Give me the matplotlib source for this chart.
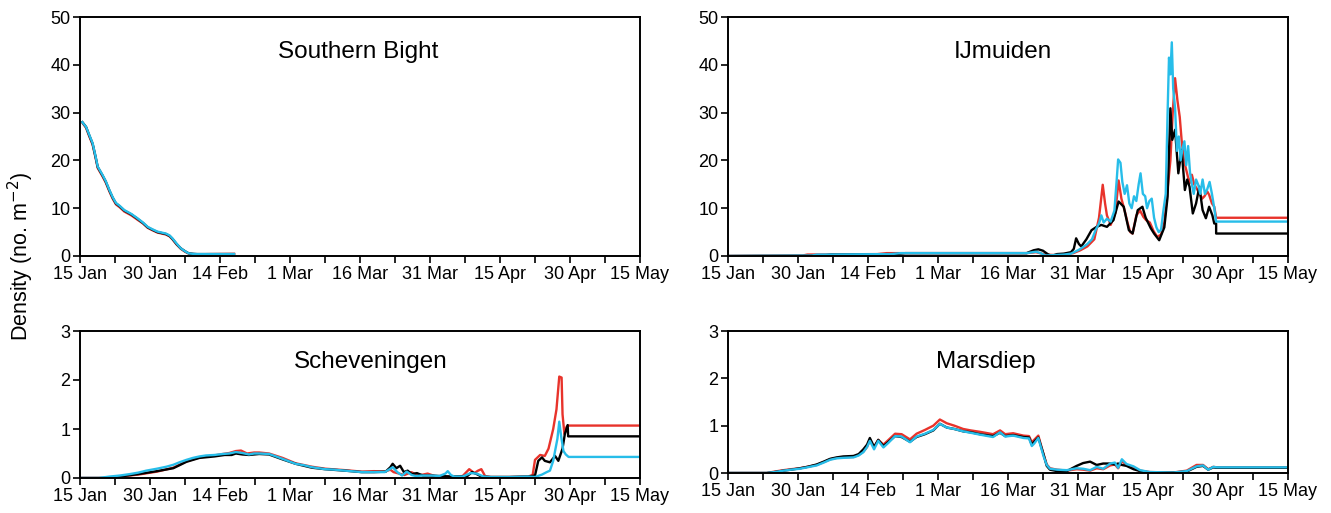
"""
Density time series (15 Jan - 15 May) for four release areas, three model runs each.
"""

import matplotlib

matplotlib.use("Agg")
import matplotlib.pyplot as plt
from matplotlib.ticker import MultipleLocator

plt.rcParams["font.family"] = ["Liberation Sans", "DejaVu Sans"]

# x axis: days after 15 Jan
tick_days = [0, 15, 30, 45, 60, 75, 90, 105, 120]
tick_labels = ["15 Jan", "30 Jan", "14 Feb", "1 Mar", "16 Mar", "31 Mar", "15 Apr", "30 Apr", "15 May"]

RED = "#e8332b"
BLACK = "#000000"
CYAN = "#27bde9"

# --- Southern Bight ---
sb_days = [0.5, 1.3, 2.0, 2.7, 3.3, 3.8, 4.8, 5.5, 6.3, 7.0, 7.7, 8.5, 9.5, 11.0, 12.3, 13.5,
           14.5, 15.5, 16.6, 17.5, 18.4, 19.2, 19.8, 20.7, 21.6, 22.5, 23.3, 24.2, 25.1, 28.0, 33.0]
sb_red = [27.9, 26.8, 25.0, 23.3, 20.7, 18.4, 16.7, 15.4, 13.5, 12.0, 10.8, 10.2, 9.3, 8.5, 7.6, 6.8,
          5.9, 5.4, 4.9, 4.7, 4.5, 4.1, 3.5, 2.4, 1.5, 0.9, 0.5, 0.4, 0.35, 0.4, 0.45]
sb_black = [28.0, 27.0, 25.2, 23.5, 20.9, 18.6, 16.9, 15.6, 13.7, 12.2, 11.0, 10.4, 9.5, 8.7, 7.8, 6.9,
            6.0, 5.5, 5.0, 4.8, 4.6, 4.2, 3.6, 2.5, 1.6, 1.0, 0.55, 0.45, 0.4, 0.4, 0.4]
sb_cyan = [28.0, 27.0, 25.3, 23.6, 21.0, 18.7, 17.0, 15.7, 13.8, 12.3, 11.1, 10.5, 9.6, 8.8, 7.9, 7.0,
           6.1, 5.6, 5.1, 4.9, 4.7, 4.3, 3.7, 2.6, 1.6, 1.0, 0.55, 0.45, 0.4, 0.4, 0.4]

# --- IJmuiden ---
ij_red_days = [0, 16, 17, 32, 34, 64, 66, 68, 70, 72, 74, 75.5, 77, 78.5, 79.5, 80.3, 80.8, 81.2, 82, 83,
               83.7, 84.3, 85, 85.6, 86.2, 86.7, 87.5, 88.3, 89, 89.6, 90.4, 91.2, 92, 92.8, 93.5,
               94.2, 94.8, 95.3, 95.8, 96.3, 96.8, 97.2, 97.7, 98.2, 98.9, 99.4, 99.9, 100.5, 101,
               101.6, 102.1, 102.7, 103.1, 103.7, 104.2, 104.6, 120]
ij_red = [0, 0.1, 0.3, 0.4, 0.6, 0.6, 0.8, 0.3, 0.2, 0.4, 0.6, 1.2, 2.0, 3.5, 8.0, 14.9, 11.0, 8.5, 6.5, 9.0,
          15.8, 12.0, 9.5, 7.0, 5.0, 4.7, 8.5, 9.5, 8.2, 7.5, 7.0, 5.2, 4.0, 4.5, 7.0,
          14.0, 20.0, 30.0, 37.2, 32.6, 29.1, 24.3, 20.0, 18.0, 15.2, 17.0, 15.0, 14.0, 13.1,
          12.0, 12.5, 13.5, 12.8, 11.0, 10.3, 8.0, 8.0]

ij_black_days = [0, 20, 22, 36, 38, 64, 65.5, 66.5, 67.5, 68.5, 69.3, 70.5, 72, 73.5, 74.1, 74.6, 75.2,
                 75.7, 76.8, 77.9, 79, 80, 81.2, 82.6, 83.7, 84.8, 85.9, 86.7, 87.8, 88.8, 89.5, 90.6,
                 91.3, 92.4, 93.5, 94.2, 94.8, 95.2, 95.8, 96.5, 97.2, 97.9, 98.4, 98.9, 99.6, 100.3,
                 101, 101.7, 102.4, 103.1, 103.8, 104.2, 104.6, 104.6, 120]
ij_black = [0, 0.05, 0.3, 0.4, 0.6, 0.6, 1.2, 1.4, 1.1, 0.4, 0.0, 0.4, 0.5, 0.8, 1.5, 3.7, 2.5,
            2.0, 3.5, 5.4, 6.1, 6.5, 6.1, 7.5, 11.4, 10.3, 5.4, 4.7, 9.6, 10.3, 8.0, 5.8,
            4.7, 3.3, 6.0, 12.4, 30.9, 24.3, 26.4, 17.3, 22.2, 13.8, 16.0, 14.5, 8.9, 11.0,
            14.5, 9.6, 7.9, 10.3, 8.5, 6.8, 6.8, 4.7, 4.7]

ij_cyan_days = [0, 18, 19, 35, 37, 64, 66, 67, 68, 70, 72, 73.5, 75, 76, 77, 78, 78.8, 79.5, 80, 80.5,
                81.2, 82, 82.8, 83.3, 83.6, 84.1, 84.5, 85, 85.5, 86, 86.5, 87, 87.5, 88, 88.4,
                88.9, 89.4, 89.8, 90.3, 90.8, 91.3, 91.8, 92.3, 92.8, 93.3, 93.8, 94.2, 94.5, 94.8,
                95.1, 95.4, 95.8, 96.2, 96.6, 97, 97.4, 97.8, 98.2, 98.6, 99, 99.4, 99.8, 100.3,
                100.8, 101.2, 101.7, 102.2, 102.7, 103.2, 103.7, 104.2, 104.6, 120]
ij_cyan = [0, 0.1, 0.3, 0.4, 0.6, 0.6, 0.9, 0.6, 0.1, 0.2, 0.3, 0.5, 1.2, 1.8, 2.5, 3.5, 5.5, 6.8, 8.5, 7.0,
           7.8, 7.2, 9.5, 16.0, 20.2, 19.5, 15.5, 13.0, 14.8, 11.0, 10.0, 12.5, 11.5, 15.0, 17.3,
           13.0, 12.5, 10.0, 11.5, 12.0, 8.0, 6.0, 5.0, 5.5, 9.5, 13.0, 30.0, 41.5, 38.0,
           44.7, 35.0, 31.0, 22.0, 25.0, 20.0, 22.5, 24.0, 19.0, 23.0, 17.5, 15.0, 13.0, 16.0,
           14.8, 13.0, 16.0, 13.0, 14.0, 15.5, 13.0, 10.0, 7.2, 7.2]

# --- Scheveningen ---
sch_red_days = [0, 5, 8.5, 12.5, 16.5, 20, 21.3, 22.8, 25.6, 28.8, 30.6, 32, 33.4, 34.5, 35.8,
                37.3, 38.4, 40.5, 43.4, 46.2, 49.7, 52.5, 56.8, 60.4, 63, 65.3, 66.5, 67.2, 68, 69.5,
                71, 72.5, 74.5, 76, 78, 80.2, 82, 83.4, 84.5, 85.3, 86, 86.8, 88, 92, 96,
                97, 97.5, 98.6, 99.6, 100.4, 101.4, 102.1, 102.7, 103.2, 103.4, 103.8, 104.3, 104.6, 120]
sch_red = [0, 0.0, 0.03, 0.07, 0.13, 0.21, 0.27, 0.34, 0.42, 0.46, 0.49, 0.51, 0.55, 0.56, 0.5,
           0.52, 0.52, 0.5, 0.41, 0.3, 0.23, 0.19, 0.16, 0.13, 0.14, 0.13, 0.17, 0.12, 0.1, 0.06,
           0.12, 0.05, 0.09, 0.04, 0.03, 0.03, 0.04, 0.18, 0.1, 0.15, 0.18, 0.04, 0.02, 0.02, 0.03,
           0.06, 0.37, 0.47, 0.45, 0.6, 1.0, 1.4, 2.07, 2.05, 1.3, 0.9, 1.05, 1.07, 1.07]

sch_black_days = [0, 5, 8.5, 12.5, 16.5, 20, 21.3, 22.8, 25.6, 28.8, 31, 32.5, 33.4, 34.8, 36.2,
                  38.4, 40.5, 43.4, 46.2, 49.7, 52.5, 56.8, 60.4, 63, 65.5, 66.5, 67.0, 67.8, 68.6, 69.4,
                  70.2, 71.1, 72.2, 73.5, 75.3, 77, 80, 83, 84, 85, 86, 88, 92, 96, 97.5,
                  98.2, 99, 99.6, 100.7, 101.8, 102.5, 103.4, 103.9, 104.5, 104.6, 120]
sch_black = [0, 0.0, 0.03, 0.08, 0.14, 0.2, 0.26, 0.33, 0.41, 0.44, 0.47, 0.47, 0.5, 0.48, 0.47,
             0.49, 0.48, 0.38, 0.29, 0.21, 0.18, 0.15, 0.12, 0.12, 0.13, 0.22, 0.29, 0.2, 0.25, 0.12,
             0.15, 0.08, 0.1, 0.05, 0.05, 0.04, 0.03, 0.04, 0.12, 0.08, 0.03, 0.02, 0.02, 0.03, 0.05,
             0.35, 0.42, 0.35, 0.32, 0.45, 0.35, 0.6, 0.9, 1.08, 0.85, 0.85]

sch_cyan_days = [0, 4, 6.4, 8.5, 10.7, 12.5, 14.2, 16.5, 18.5, 20, 21.3, 22.8, 24.2, 25.6, 27, 28.8,
                 30.6, 32, 33.4, 34.8, 36.2, 37.3, 38.4, 40.5, 42, 43.4, 44.8, 46.2, 48, 49.7, 52.5,
                 54.5, 56.8, 60.4, 63, 65.3, 66.2, 67, 68, 69, 70, 71.1, 72, 73.2, 75.3, 77, 78.3,
                 78.8, 79.5, 80.2, 82, 83.7, 85, 86.5, 88, 92, 96, 97.5, 99, 100, 100.7, 101.4,
                 102.3, 102.7, 103.1, 103.6, 104.1, 104.7, 120]
sch_cyan = [0, 0.0, 0.03, 0.05, 0.08, 0.11, 0.15, 0.19, 0.23, 0.27, 0.32, 0.37, 0.41, 0.44, 0.46, 0.47,
            0.49, 0.5, 0.53, 0.51, 0.48, 0.5, 0.5, 0.49, 0.44, 0.39, 0.34, 0.29, 0.26, 0.22, 0.18,
            0.17, 0.15, 0.12, 0.12, 0.12, 0.17, 0.22, 0.12, 0.05, 0.13, 0.06, 0.04, 0.05, 0.05, 0.04, 0.09,
            0.14, 0.06, 0.03, 0.03, 0.1, 0.09, 0.03, 0.02, 0.02, 0.03, 0.02, 0.07, 0.12, 0.15, 0.35,
            0.8, 1.15, 0.85, 0.55, 0.48, 0.43, 0.43]

# --- Marsdiep ---
mars_days = [0, 8.3, 10, 11.9, 13.5, 15.4, 17, 19, 20.5, 21.9, 23.3, 24.7, 26.9, 28, 29,
             29.8, 30.4, 31.3, 32.2, 33.3, 34.4, 35.8, 37.2, 39, 40.4, 42.2, 44, 45.4, 46.9,
             48.5, 50.4, 52, 54, 56.8, 58.3, 59.4, 61.1, 63.3, 64.5, 65.1, 65.6, 66.5, 67.6,
             68.3, 69, 70.5, 72.6, 74.7, 76.1, 77.6, 79, 80.4, 81.9, 82.9, 83.6, 84.4, 85.4,
             86.9, 88.3, 90.4, 95.4, 98.3, 100.4, 101.8, 102.9, 104, 104.7, 120]
mars_red = [0, 0, 0.03, 0.06, 0.08, 0.1, 0.13, 0.17, 0.23, 0.29, 0.32, 0.33, 0.34, 0.38, 0.45,
            0.55, 0.7, 0.55, 0.7, 0.6, 0.7, 0.83, 0.82, 0.71, 0.83, 0.91, 1.0, 1.13, 1.05,
            1.0, 0.93, 0.9, 0.87, 0.82, 0.9, 0.82, 0.84, 0.79, 0.78, 0.65, 0.7, 0.79, 0.4,
            0.18, 0.1, 0.07, 0.05, 0.08, 0.07, 0.05, 0.1, 0.08, 0.16, 0.18, 0.1, 0.25, 0.17,
            0.12, 0.05, 0.02, 0.01, 0.05, 0.17, 0.17, 0.08, 0.13, 0.12, 0.12]
mars_black = [0, 0, 0.02, 0.05, 0.07, 0.1, 0.13, 0.18, 0.24, 0.3, 0.33, 0.35, 0.36, 0.4, 0.5,
              0.6, 0.74, 0.55, 0.7, 0.57, 0.66, 0.78, 0.76, 0.66, 0.76, 0.82, 0.9, 1.04, 0.96,
              0.93, 0.88, 0.86, 0.82, 0.78, 0.85, 0.78, 0.8, 0.76, 0.75, 0.6, 0.66, 0.75, 0.4,
              0.15, 0.07, 0.04, 0.04, 0.15, 0.21, 0.24, 0.17, 0.2, 0.2, 0.18, 0.2, 0.17, 0.15,
              0.08, 0.04, 0.01, 0.01, 0.03, 0.13, 0.15, 0.07, 0.12, 0.11, 0.11]
mars_cyan = [0, 0, 0.02, 0.05, 0.07, 0.09, 0.12, 0.16, 0.22, 0.28, 0.31, 0.32, 0.33, 0.37, 0.44,
             0.55, 0.68, 0.5, 0.68, 0.54, 0.64, 0.78, 0.77, 0.65, 0.77, 0.83, 0.91, 1.04, 0.96,
             0.93, 0.88, 0.85, 0.81, 0.76, 0.86, 0.77, 0.79, 0.74, 0.73, 0.57, 0.62, 0.74, 0.36,
             0.17, 0.09, 0.07, 0.06, 0.1, 0.09, 0.06, 0.13, 0.09, 0.2, 0.22, 0.11, 0.29, 0.19,
             0.14, 0.06, 0.02, 0.01, 0.04, 0.14, 0.16, 0.07, 0.13, 0.12, 0.12]


def style_panel(ax, title, ymax, ystep, title_xy):
    ax.set_xlim(0, 120)
    ax.set_ylim(0, ymax)
    ax.set_xticks(tick_days)
    ax.set_xticklabels(tick_labels)
    ax.xaxis.set_minor_locator(MultipleLocator(7.5))
    ax.yaxis.set_major_locator(MultipleLocator(ystep))
    ax.tick_params(axis="both", which="both", direction="out", labelsize=13,
                   width=1.2, pad=2)
    ax.tick_params(axis="both", which="major", length=5)
    ax.tick_params(axis="x", which="minor", length=5)
    for spine in ax.spines.values():
        spine.set_linewidth(1.4)
    ax.text(title_xy[0], title_xy[1], title, transform=ax.transAxes,
            ha="center", va="center", fontsize=17.5)


def plot_runs(ax, runs):
    for days, vals, color in runs:
        ax.plot(days, vals, color=color, lw=1.7, solid_joinstyle="round")


fig = plt.figure(figsize=(13.31, 5.13), dpi=100)

W = 560 / 1331
ax_sb = fig.add_axes([80 / 1331, 1 - 256 / 513, W, 239 / 513])
ax_ij = fig.add_axes([728 / 1331, 1 - 256 / 513, W, 239 / 513])
ax_sch = fig.add_axes([80 / 1331, 1 - 478 / 513, W, 147 / 513])
ax_mars = fig.add_axes([728 / 1331, 1 - 473 / 513, W, 142 / 513])

plot_runs(ax_sb, [(sb_days, sb_red, RED), (sb_days, sb_black, BLACK), (sb_days, sb_cyan, CYAN)])
plot_runs(ax_ij, [(ij_red_days, ij_red, RED), (ij_black_days, ij_black, BLACK),
                  (ij_cyan_days, ij_cyan, CYAN)])
plot_runs(ax_sch, [(sch_red_days, sch_red, RED), (sch_black_days, sch_black, BLACK),
                   (sch_cyan_days, sch_cyan, CYAN)])
plot_runs(ax_mars, [(mars_days, mars_red, RED), (mars_days, mars_black, BLACK),
                    (mars_days, mars_cyan, CYAN)])

style_panel(ax_sb, "Southern Bight", 50, 10, (0.497, 0.853))
style_panel(ax_ij, "IJmuiden", 50, 10, (0.49, 0.853))
style_panel(ax_sch, "Scheveningen", 3, 1, (0.52, 0.79))
style_panel(ax_mars, "Marsdiep", 3, 1, (0.46, 0.78))

fig.text(0.016, 0.5, "Density (no. m$^{-2}$)", rotation=90, ha="center", va="center", fontsize=15.5)

fig.savefig("out.png", dpi=100)
